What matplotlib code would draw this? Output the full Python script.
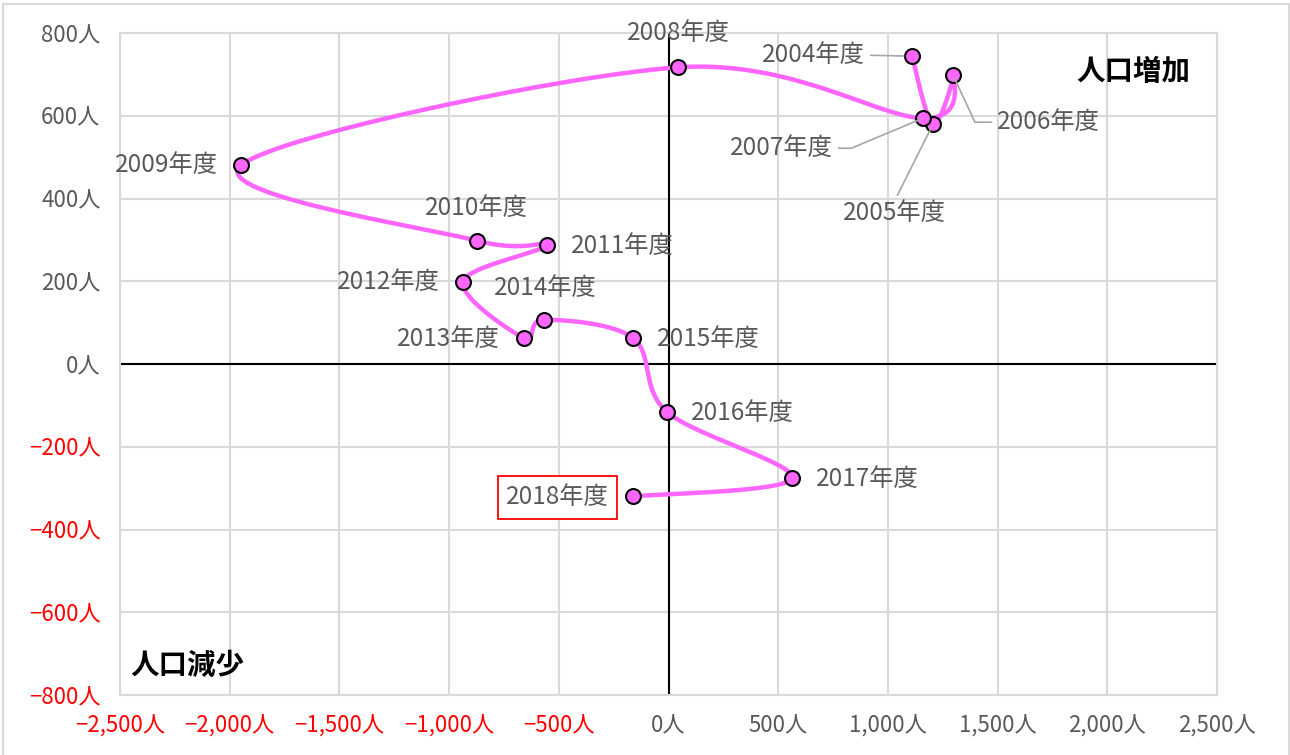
import numpy as np
import matplotlib
matplotlib.use("Agg")
import matplotlib.pyplot as plt
from matplotlib.patches import Rectangle

plt.rcParams['font.family'] = ['Noto Sans CJK JP', 'DejaVu Sans']

# ---- data ----
years = ["2004年度", "2005年度", "2006年度", "2007年度", "2008年度", "2009年度",
         "2010年度", "2011年度", "2012年度", "2013年度", "2014年度", "2015年度",
         "2016年度", "2017年度", "2018年度"]
x_vals = [1110, 1205, 1297, 1160, 43, -1949, -873, -554, -937, -659, -567, -162, -7, 563, -162]
y_vals = [744, 579, 698, 594, 717, 480, 298, 288, 199, 63, 107, 63, -116, -276, -320]

x_ticks = [-2500, -2000, -1500, -1000, -500, 0, 500, 1000, 1500, 2000, 2500]
y_ticks = [-800, -600, -400, -200, 0, 200, 400, 600, 800]

# ---- styles ----
LINE_C = '#ff66ff'
GRID_C = '#d9d9d9'
TXT_C = '#595959'
NEG_C = '#ff0000'

fig = plt.figure(figsize=(12.9, 7.55), dpi=100)
ax = fig.add_axes([120/1290, 1-695/755, (1217-120)/1290, (695-33)/755])
ax.set_xlim(-2500, 2500)
ax.set_ylim(-800, 800)

# smooth (Catmull-Rom) curve through the points, computed in display-proportional space
ppx = 1097/5000.0
ppy = 662/1600.0
P = np.column_stack([np.array(x_vals)*ppx, np.array(y_vals)*ppy])
n = len(P)
curve = []
for i in range(n-1):
    p0 = P[i-1] if i > 0 else P[i]
    p1 = P[i]
    p2 = P[i+1]
    p3 = P[i+2] if i+2 < n else P[i+1]
    c1 = p1 + (p2 - p0)/6.0
    c2 = p2 - (p3 - p1)/6.0
    t = np.linspace(0, 1, 40)[:, None]
    seg = (1-t)**3*p1 + 3*(1-t)**2*t*c1 + 3*(1-t)*t**2*c2 + t**3*p2
    curve.append(seg if i == 0 else seg[1:])
curve = np.vstack(curve)
ax.plot(curve[:, 0]/ppx, curve[:, 1]/ppy, color=LINE_C, lw=3.2, zorder=4, solid_capstyle='round')
ax.scatter(x_vals, y_vals, s=115, facecolor=LINE_C, edgecolor='black', linewidth=1.5, zorder=5)

# grid / axes
ax.grid(True, color=GRID_C, lw=1.5, zorder=0)
for s in ax.spines.values():
    s.set_color(GRID_C)
    s.set_linewidth(1.5)
ax.axhline(0, color='black', lw=1.5, zorder=2)
ax.axvline(0, color='black', lw=1.5, zorder=2)
ax.tick_params(length=0, labelsize=16)

def fmt(v):
    s = f"{abs(v):,}人"
    return ("−" + s) if v < 0 else s

ax.set_xticks(x_ticks)
ax.set_yticks(y_ticks)
ax.set_xticklabels([fmt(v) for v in x_ticks])
ax.set_yticklabels([fmt(v) for v in y_ticks])
for lab, v in zip(ax.get_xticklabels(), x_ticks):
    lab.set_color(NEG_C if v < 0 else TXT_C)
for lab, v in zip(ax.get_yticklabels(), y_ticks):
    lab.set_color(NEG_C if v < 0 else TXT_C)
ax.tick_params(axis='x', pad=14)
ax.tick_params(axis='y', pad=14)

# data labels: (dx, dy) in pixels, ha
label_pos = {
    "2004年度": (-47, 1, 'right'),
    "2005年度": (-38, -89, 'center'),
    "2006年度": (44, -47, 'left'),
    "2007年度": (-90, -30, 'right'),
    "2008年度": (0, 34, 'center'),
    "2009年度": (-23, 0, 'right'),
    "2010年度": (-1, 33, 'center'),
    "2011年度": (24, -1, 'left'),
    "2012年度": (-23, 0, 'right'),
    "2013年度": (-24, -1, 'right'),
    "2014年度": (1, 32, 'center'),
    "2015年度": (24, -1, 'left'),
    "2016年度": (24, -1, 'left'),
    "2017年度": (24, -1, 'left'),
    "2018年度": (-24, -1, 'right'),
}
leader = {
    "2004年度": dict(arrowstyle='-', color='#a6a6a6', lw=1.2, shrinkA=2, shrinkB=6,
                    relpos=(1, 0.5), connectionstyle='arc3'),
    "2005年度": dict(arrowstyle='-', color='#a6a6a6', lw=1.2, shrinkA=2, shrinkB=2,
                    relpos=(0.5, 1), connectionstyle='arc3'),
    "2006年度": dict(arrowstyle='-', color='#a6a6a6', lw=1.2, shrinkA=2, shrinkB=2,
                    relpos=(0, 0.5), connectionstyle='angle,angleA=0,angleB=115,rad=0'),
    "2007年度": dict(arrowstyle='-', color='#a6a6a6', lw=1.2, shrinkA=2, shrinkB=2,
                    relpos=(1, 0.5), connectionstyle='angle,angleA=0,angleB=22.7,rad=0'),
}
for name, xv, yv in zip(years, x_vals, y_vals):
    dx, dy, ha = label_pos[name]
    kw = {}
    if name in leader:
        kw['arrowprops'] = leader[name]
    if name == "2018年度":
        kw['bbox'] = dict(boxstyle='square,pad=0.35', fc='white', ec='#ff0000', lw=1.3)
    ax.annotate(name, (xv, yv), xytext=(dx, dy), textcoords='offset pixels',
                ha=ha, va='center', fontsize=17.5, color=TXT_C, zorder=6, **kw)

ax.text(0.9755, 0.941, "人口増加", transform=ax.transAxes, ha='right', va='center',
        fontsize=20.5, fontweight='bold', color='black')
ax.text(0.009, 0.044, "人口減少", transform=ax.transAxes, ha='left', va='center',
        fontsize=20.5, fontweight='bold', color='black')

# figure border
fig.patches.append(Rectangle((3/1290, -0.01), (1289-3)/1290, 1.01-4/755,
                             transform=fig.transFigure, fill=False, ec='#d9d9d9', lw=1.5))

fig.savefig("out.png", dpi=100)
